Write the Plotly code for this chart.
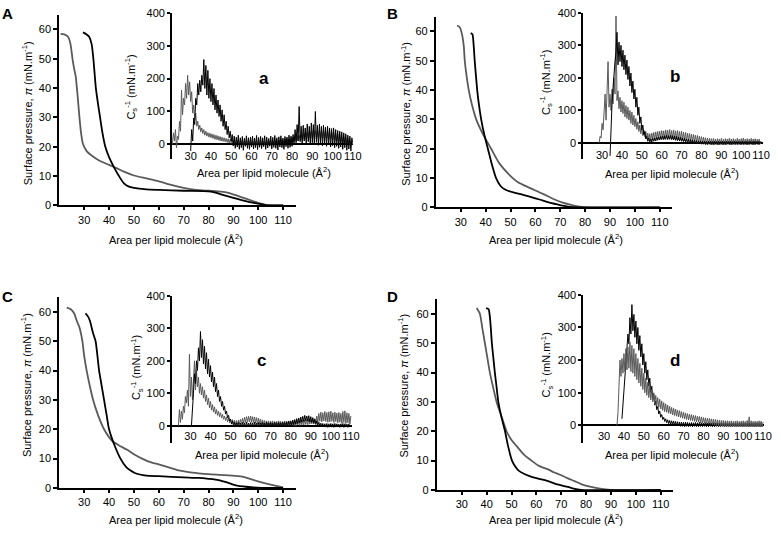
import plotly.graph_objects as go

W, H = 781, 535
FONT = "Arial, Liberation Sans, sans-serif"
BLACK = "#000000"
GRAY = "#5a5a5a"

# ---------------- main isotherms (pi vs area) ----------------
A_black_x = [29.5, 31, 32, 33, 33.7, 34.7, 35.5, 36.4, 37.3, 38.5, 40, 42, 44, 46, 48, 50, 55, 60, 70, 80, 82, 85, 90, 95, 100, 103, 105, 110]
A_black_y = [59, 58.3, 57.5, 55, 50, 40, 35, 30, 25, 20, 16.5, 13, 10, 7.5, 6.4, 6, 5.5, 5.3, 5, 4.8, 4.5, 3.8, 2.6, 1.5, 0.6, 0.1, 0, 0]
A_gray_x = [20.5, 22, 23.5, 24.5, 25.3, 26, 26.6, 27.3, 28, 28.7, 29.5, 31, 33, 36, 40, 43, 46, 50, 55, 60, 65, 70, 75, 80, 85, 88, 91, 95, 100, 103, 106, 110]
A_gray_y = [58.5, 58.3, 57.5, 55, 50, 46.5, 44, 38, 31, 25, 21, 18.5, 17, 15.3, 13.8, 12.7, 11.5, 10.2, 9.2, 8.2, 7, 6, 5.3, 5, 4.7, 4.3, 3.5, 2.3, 0.9, 0.2, 0, 0]

B_black_x = [34, 34.7, 35.2, 35.6, 36.6, 37.3, 38.2, 39.4, 40.9, 42.4, 44.2, 46, 48, 51.5, 55, 58, 62, 65, 68.8, 72, 75, 78, 110]
B_black_y = [59.5, 59, 55, 50, 40, 35, 30, 25, 20, 15, 10, 7.3, 6, 5, 4.3, 3.6, 2.6, 1.8, 1, 0.4, 0.05, 0, 0]
B_gray_x = [28.5, 29.5, 30.5, 31.2, 31.6, 32.3, 33.2, 34.5, 36.2, 38.9, 42.2, 45.5, 50.9, 53, 56.8, 62, 65, 68, 71, 74, 77, 80, 110]
B_gray_y = [62, 61.5, 59, 55, 50, 45, 40, 35, 30, 25, 20, 15, 10, 8.6, 7, 5, 3.8, 2.6, 1.6, 0.9, 0.3, 0, 0]

C_black_x = [30.5, 31.5, 32.3, 33.5, 34.6, 36, 37, 38, 39, 40, 42, 44.6, 47, 48.5, 50.6, 55, 60, 70, 76, 80, 84, 86, 88, 90, 92, 95, 98, 102, 110]
C_black_y = [59.5, 58.5, 57, 53, 50, 40, 35, 30, 25, 20, 15, 10, 7, 6, 5, 4.2, 4, 3.6, 3.4, 3.1, 2.7, 2.2, 1.7, 1.1, 0.7, 0.4, 0.2, 0, 0]
C_gray_x = [23, 24.5, 26, 27, 28, 29.3, 30, 31, 32.2, 33.6, 35.5, 38, 41.3, 44, 47.3, 50, 53.3, 56, 60, 64, 68, 72, 76, 80, 86.5, 92, 94.5, 97, 101, 105, 109, 110]
C_gray_y = [61.5, 61, 59.5, 57, 55, 50, 45, 40, 35, 30, 25, 20, 16, 14.5, 13, 11.5, 10, 9, 8, 7, 6, 5.4, 5, 4.7, 4.4, 4, 3.7, 3, 2, 1.1, 0.4, 0.2]

D_black_x = [39.8, 40.8, 41.3, 41.7, 42.1, 42.7, 43.3, 44, 44.7, 45.9, 47.4, 48.6, 50.2, 51.5, 53, 55, 57, 60, 64.7, 68, 72.7, 75, 78, 110]
D_black_y = [62, 61.6, 59, 55, 50, 45, 40, 35, 30, 25, 20, 15, 10, 8, 6.5, 5.5, 4.8, 4, 3, 2, 1, 0.4, 0, 0]
D_gray_x = [36, 37.3, 38.3, 39.3, 40.3, 41.3, 42.6, 44, 46, 48, 50, 52, 55, 58, 61, 64.7, 67, 70, 72.5, 75.3, 78, 82, 85, 90, 110]
D_gray_y = [62, 60, 55, 50, 45, 40, 35, 30, 25, 20, 17, 15, 12, 10, 8.2, 7, 6, 5, 4, 3, 2, 1, 0.5, 0, 0]

# ---------------- inset compressibility moduli (Cs^-1), sampled every 0.5 A ----------------
STEP = 0.5

a_gray_start = 21
a_gray = [0, 35, 10, 45, -10, 25, 15, 70, 40, 165,
          90, 140, 120, 185, 140, 210, 150, 190, 130, 160,
          95, 120, 75, 95, 55, 70, 45, 58, 38, 50,
          33, 45, 28, 40, 25, 36, 22, 34, 20, 32,
          18, 30, 15, 28, 14, 26, 12, 24, 10, 22,
          9, 20, 8, 18, 6, 17, 4, 16, 3, 15,
          2, 14, 0, 12, 3, 15, -1, 11, 2, 13, 0, 12, -2, 10, 1, 14, -1, 12, 0, 11,
          -3, 10, 1, 13, -2, 9, 0, 12, -1, 10, -3, 9, 0, 11, -2, 10, 1, 12, -1, 10,
          0, 13, 2, 14, 0, 12, 3, 15, 1, 14, 2, 16, 4, 18, 3, 17, 5, 20, 6, 22,
          8, 24, 10, 26, 12, 28, 14, 30, 15, 33, 16, 35, 18, 36, 17, 38, 19, 40, 18, 42,
          20, 42, 18, 40, 20, 43, 17, 41, 19, 42, 16, 40, 18, 41, 15, 39, 16, 38, 14, 37,
          12, 34, 10, 32, 8, 30, 6, 27, 4, 24, 2, 20, 0, 17, -2, 14, -3, 10, 0]
a_black_start = 30
a_black = [-20, 45, 10, 80, 60, 140, 120, 185, 150, 195,
           160, 210, 180, 258, 170, 240, 150, 225, 140, 200,
           130, 185, 120, 170, 105, 150, 95, 135, 85, 120,
           70, 105, 55, 90, 45, 70, 30, 55, 20, 40,
           10, 30, -5, 25, -12, 22, -8, 28, -15, 20,
           -10, 24, -18, 18, -6, 26, -12, 20, -15, 22,
           -8, 25, -14, 19, -10, 27, -16, 21, -9, 24,
           -13, 20, -7, 26, -15, 22, -11, 18, -6, 25,
           -14, 21, -9, 27, -12, 20, -17, 23, -8, 26,
           -10, 19, -15, 24, -7, 22, -12, 28, -9, 25,
           -6, 30, 0, 45, 5, 60, 10, 115, 8, 55,
           0, 58, 10, 50, 2, 62, 8, 55, -2, 65,
           5, 60, 0, 100, 6, 58, -3, 62, 4, 55,
           -5, 58, 2, 52, -6, 55, 0, 50, -8, 48,
           -4, 50, -10, 45, -6, 42, -12, 40, -8, 38,
           -15, 35, -10, 32, -18, 28, -14, 25, -20, 20,
           5]

b_gray_start = 28.5
b_gray = [0, 20, 15, 60, 40, 110, 150, 70, 140,
          250, 110, 150, 100, 165, 120, 200, 150, 390, 130,
          160, 105, 140, 95, 130, 90, 125, 80, 115, 75,
          110, 70, 100, 60, 95, 55, 85, 50, 75, 42,
          65, 35, 55, 28, 48, 22, 40, 18, 35, 12,
          30, 10, 28, 8, 30, 12, 32, 10, 34, 12,
          35, 14, 36, 12, 38, 15, 37, 13, 40, 16,
          39, 14, 41, 15, 38, 13, 40, 12, 37, 11,
          38, 10, 35, 9, 36, 8, 33, 7, 32, 6,
          30, 5, 29, 4, 27, 3, 26, 2, 24, 1,
          23, 0, 21, -1, 19, -2, 18, -3, 16, -4,
          15, -4, 14, -5, 13, -5, 14, -6, 12, -5,
          13, -6, 12, -5, 14, -6, 11, -5, 13, -6,
          12, -4, 14, -5, 12, -6, 13, -5, 11, -4,
          14, -5, 12, -6, 13, -4, 15, -5, 12, -6,
          13, -5, 12, -4, 14, -6, 12, -5, 13, -4,
          11, -5, 12, -4, 5]
b_black_start = 34
b_black = [-40, 60, 120, 170, 220, 250, 280, 340, 240, 310,
           250, 300, 235, 285, 225, 270, 210, 255, 195, 235,
           175, 215, 155, 190, 135, 165, 110, 140, 85, 110,
           60, 80, 40, 55, 25, 35, 12, 20, 5, 15,
           2, 12, 3, 14, 5, 15, 6, 17, 8, 18,
           9, 20, 10, 21, 10, 22, 11, 23, 10, 22,
           11, 23, 10, 22, 9, 21, 8, 20, 7, 18,
           6, 17, 5, 15, 4, 14, 3, 12, 2, 11,
           1, 10, 0, 9, -1, 8, -2, 7, -3, 6,
           -3, 6, -4, 5, -4, 5, -5, 4, -5, 5,
           -4, 5, -5, 4, -5, 5, -4, 4, -5, 5,
           -5, 4, -4, 5, -5, 4, -5, 5, -4, 4,
           -5, 5, -5, 4, -4, 5, -5, 4, -5, 5,
           -4, 4, -5, 5, -5, 4, -4, 5, -5, 4,
           -5, 5, -4, 4, -5, 5, -5, 4, -4, 5,
           -5, 4, 0]

c_gray_start = 24
c_gray = [0, 50, 10, 45, 20, 60, 40, 90, 70, 110,
          60, 220, 90, 150, 80, 130, 200, 110, 170, 120,
          150, 100, 130, 95, 120, 85, 110, 75, 95, 65,
          85, 55, 75, 48, 65, 42, 58, 36, 50, 32,
          45, 28, 40, 24, 35, 20, 30, 16, 27, 12,
          24, 9, 21, 6, 19, 4, 17, 3, 16, 4,
          18, 5, 20, 7, 23, 8, 26, 10, 28, 11,
          29, 12, 30, 11, 28, 10, 27, 8, 25, 6,
          23, 5, 20, 3, 18, 2, 16, 1, 15, 0,
          14, 0, 14, 1, 15, 0, 13, -1, 14, 0,
          15, 1, 14, 0, 13, -1, 15, 0, 14, 1,
          15, 0, 14, 2, 16, 1, 15, 0, 17, 2,
          16, 1, 18, 3, 17, 2, 19, 4, 18, 3,
          20, 5, 19, 6, 21, 7, 22, 8, 30, 10,
          38, 14, 42, 12, 40, 15, 44, 13, 41, 11,
          43, 12, 45, 14, 40, 10, 42, 13, 39, 9,
          41, 11, 38, 8, 44, 10, 46, 7, 40, 9,
          38, 6, 30]
c_black_start = 30.5
c_black = [0, 40, 100, 160, 130, 200, 170, 240, 200,
           290, 210, 265, 190, 245, 175, 225, 160, 205, 150,
           185, 135, 165, 120, 150, 105, 130, 90, 110, 75,
           90, 60, 75, 48, 60, 36, 45, 25, 32, 15,
           20, 5, 14, 0, 10, -3, 9, -2, 10, -4,
           8, -3, 10, -2, 9, -4, 11, -3, 8, -2,
           10, -3, 9, -4, 11, -2, 8, -3, 10, -4,
           9, -2, 10, -3, 8, -4, 11, -2, 9, -3,
           10, -4, 8, -2, 11, -3, 9, -4, 10, -2,
           9, -3, 11, -2, 10, -4, 12, -1, 14, 0,
           15, 1, 17, 3, 19, 5, 22, 7, 24, 9,
           27, 11, 29, 13, 32, 15, 30, 14, 31, 12,
           28, 10, 25, 7, 20, 4, 15, 1, 11, -1,
           8, -3, 7, -4, 6, -4, 7, -5, 6, -4,
           7, -4, 6, -5, 7, -4, 6, -4, 5, -5,
           6, -4, 7, -5, 6, -4, 5, -5, 6, -4,
           0]

d_gray_start = 36.5
d_gray = [0, 40, 120, 200, 150, 205, 160, 220, 165,
          235, 170, 240, 175, 255, 165, 245, 160, 235, 150,
          220, 140, 205, 130, 190, 120, 175, 110, 160, 100,
          145, 92, 132, 85, 120, 78, 110, 72, 100, 66,
          92, 60, 85, 55, 80, 50, 75, 46, 70, 42,
          66, 40, 62, 37, 58, 35, 55, 32, 52, 30,
          50, 28, 47, 26, 45, 24, 42, 22, 40, 20,
          38, 18, 36, 17, 34, 15, 33, 14, 31, 12,
          30, 11, 28, 10, 27, 8, 26, 7, 24, 6,
          23, 5, 22, 4, 21, 3, 20, 2, 19, 1,
          18, 0, 17, -1, 16, -2, 15, -3, 15, -4,
          14, -4, 14, -5, 13, -4, 14, -5, 12, -4,
          13, -5, 14, -4, 12, -5, 13, -4, 14, -5,
          12, -4, 15, -5, 26, -4, 14, -5, 12, -4,
          13, -5, 12, -4, 14, -5, 13, -4, 10]
d_black_start = 39
d_black = [20, 60, 100, 150, 190, 240, 280, 250, 330, 280,
           370, 290, 340, 270, 320, 250, 300, 230, 275, 210,
           250, 185, 220, 160, 195, 140, 170, 120, 145, 100,
           120, 80, 95, 62, 75, 48, 58, 35, 44, 25,
           33, 18, 25, 12, 20, 8, 17, 5, 15, 3,
           14, 2, 13, 0, 12, -1, 11, -2, 10, -3,
           10, -3, 9, -4, 10, -3, 9, -4, 8, -3,
           9, -4, 8, -3, 9, -4, 8, -4, 9, -3,
           8, -4, 7, -3, 8, -4, 7, -4, 8, -3,
           7, -4, 8, -4, 7, -3, 8, -4, 7, -4,
           8, -3, 7, -4, 8, -4, 7, -3, 8, -4,
           7, -4, 8, -3, 7, -4, 8, -4, 7, -3,
           8, -4, 7, -4, 8, -3, 7, -4, 8, -4,
           7, -3, 8, -4, 7, -4, 8, -3, 7, -4,
           8, -4, 3]

main_xticks = [30, 40, 50, 60, 70, 80, 90, 100, 110]
main_yticks = [0, 10, 20, 30, 40, 50, 60]
inset_yticks = [0, 100, 200, 300, 400]


def px_x(p0, p1):
    return [p0 / W, p1 / W]


def px_y(top, bottom):
    return [1 - bottom / H, 1 - top / H]


def sample_positions(start, vals):
    return [start + STEP * i for i in range(len(vals))]


fig = go.Figure()

tickfont = dict(family=FONT, size=11, color="black")

mains = [
    ("", (60, 299), 9, 204, A_gray_x, A_gray_y, A_black_x, A_black_y),
    ("2", (441, 680), 11, 206, B_gray_x, B_gray_y, B_black_x, B_black_y),
    ("3", (60, 299), 298, 493, C_gray_x, C_gray_y, C_black_x, C_black_y),
    ("4", (442, 681), 300, 495, D_gray_x, D_gray_y, D_black_x, D_black_y),
]
layout_axes = {}
for sfx, xdom, ytop, ybot, gx, gy, bx, by in mains:
    xa = "x" + sfx
    ya = "y" + sfx
    fig.add_trace(go.Scatter(x=gx, y=gy, xaxis=xa, yaxis=ya, mode="lines",
                             line=dict(color=GRAY, width=1.8, shape="spline", smoothing=0.6),
                             showlegend=False, hoverinfo="skip"))
    fig.add_trace(go.Scatter(x=bx, y=by, xaxis=xa, yaxis=ya, mode="lines",
                             line=dict(color=BLACK, width=1.8, shape="spline", smoothing=0.6),
                             showlegend=False, hoverinfo="skip"))
    layout_axes["xaxis" + sfx] = dict(domain=px_x(*xdom), range=[20, 115], anchor=ya,
                                      showline=True, linecolor="black", linewidth=2,
                                      ticks="outside", ticklen=3, tickwidth=1.5, tickcolor="black",
                                      tickvals=main_xticks, tickangle=0, showgrid=False,
                                      zeroline=False, tickfont=tickfont)
    layout_axes["yaxis" + sfx] = dict(domain=px_y(ytop, ybot), range=[0, 65], anchor=xa,
                                      showline=True, linecolor="black", linewidth=2,
                                      ticks="outside", ticklen=4, tickwidth=1.5, tickcolor="black",
                                      tickvals=main_yticks, showgrid=False, zeroline=False,
                                      tickfont=tickfont)

insets = [
    ("5", (174, 357), [20.8, 110], 7, 157, [-46, 400], 145,
     [(a_gray_start, a_gray, GRAY), (a_black_start, a_black, BLACK)]),
    ("6", (590, 772), [20.5, 111], 7, 157, [-51, 400], 144,
     [(b_gray_start, b_gray, GRAY), (b_black_start, b_black, BLACK)]),
    ("7", (174, 356), [20.8, 110.5], 296.5, 447, [-53, 400], 432,
     [(c_gray_start, c_gray, GRAY), (c_black_start, c_black, BLACK)]),
    ("8", (590, 773), [19.5, 110.5], 295.5, 447, [-54, 400], 432,
     [(d_black_start, d_black, BLACK), (d_gray_start, d_gray, GRAY)]),
]
for sfx, xdom, xr, ytop, ybot, yr, labpos, series in insets:
    xa = "x" + sfx
    ya = "y" + sfx
    for st, vals, col in series:
        fig.add_trace(go.Scatter(x=sample_positions(st, vals), y=vals, xaxis=xa, yaxis=ya,
                                 mode="lines", line=dict(color=col, width=1),
                                 showlegend=False, hoverinfo="skip"))
    layout_axes["xaxis" + sfx] = dict(domain=px_x(*xdom), range=xr, anchor="free",
                                      position=1 - labpos / H, showline=False, ticks="",
                                      tickvals=main_xticks, tickangle=0, showgrid=False,
                                      zeroline=False, tickfont=tickfont)
    layout_axes["yaxis" + sfx] = dict(domain=px_y(ytop, ybot), range=yr, anchor=xa,
                                      showline=True, linecolor="black", linewidth=1.8,
                                      ticks="outside", ticklen=3, tickwidth=1.5, tickcolor="black",
                                      tickvals=inset_yticks, showgrid=False,
                                      zeroline=True, zerolinecolor="black", zerolinewidth=1.6,
                                      tickfont=tickfont)

annotations = []


def ann(text, px, py, size=11, bold=False, angle=0):
    t = "<b>%s</b>" % text if bold else text
    annotations.append(dict(text=t, x=px / W, y=1 - py / H, xref="paper", yref="paper",
                            xanchor="center", yanchor="middle", showarrow=False,
                            textangle=angle, font=dict(family=FONT, size=size, color="black")))


for t, px, py in [("A", 8, 8), ("B", 397, 8), ("C", 8, 297), ("D", 397, 297)]:
    ann(t, px, py, size=15, bold=True)
for t, px, py in [("a", 267, 74), ("b", 683, 72), ("c", 265, 363), ("d", 683, 363)]:
    ann(t, px, py, size=17, bold=True)

ytitle = "Surface pressure, <i>π</i> (mN.m<sup>-1</sup>)"
xtitle = "Area per lipid molecule (Å<sup>2</sup>)"
ctitle = "C<sub>s</sub><sup>-1</sup> (mN.m<sup>-1</sup>)"
for px, py in [(27, 110), (410, 110), (27, 388), (408, 388)]:
    ann(ytitle, px, py, angle=-90)
for px, py in [(178, 238), (562, 238), (178, 525), (562, 525)]:
    ann(xtitle, px, py)
for px, py in [(267, 170), (680, 171), (265, 458), (680, 458)]:
    ann(xtitle, px, py)
for px, py in [(133, 83), (553, 78), (138, 370), (553, 367)]:
    ann(ctitle, px, py, angle=-90)

fig.update_layout(width=W, height=H, margin=dict(l=0, r=0, t=0, b=0),
                  paper_bgcolor="white", plot_bgcolor="rgba(0,0,0,0)",
                  annotations=annotations, **layout_axes)

fig.write_html("out.html")
